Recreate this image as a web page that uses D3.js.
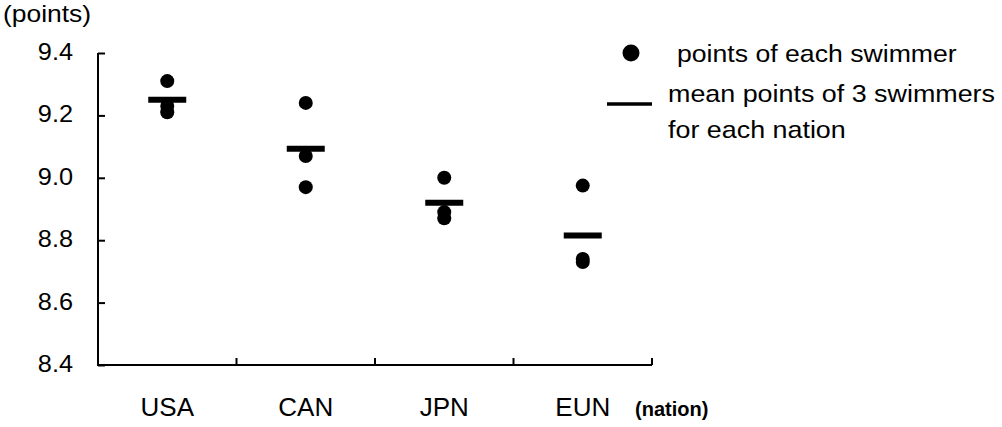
<!DOCTYPE html>
<html lang="en">
<head>
<meta charset="utf-8">
<title>Points of swimmers by nation</title>
<script src="https://cdn.jsdelivr.net/npm/d3@7/dist/d3.min.js"></script>
<style>
  body { margin: 0; background: #fff; }
  text { font-family: "Liberation Sans", Arial, Helvetica, sans-serif; fill: #000; }
</style>
</head>
<body>
<script>
  // data
  var nations = ["USA", "CAN", "JPN", "EUN"];
  var swimmerPoints = [
    [9.31, 9.23, 9.21],
    [9.24, 9.07, 8.97],
    [9.00, 8.89, 8.87],
    [8.975, 8.74, 8.73]
  ];
  var yTicks = [8.4, 8.6, 8.8, 9.0, 9.2, 9.4];

  var w = 1002, h = 427;
  var margin = {top: 53, right: 350, bottom: 62, left: 98};

  var svg = d3.select("body").append("svg").attr("width", w).attr("height", h);

  var x = d3.scaleBand().domain(nations).range([margin.left, w - margin.right]);
  var y = d3.scaleLinear().domain([8.4, 9.4]).range([h - margin.bottom, margin.top]);

  // the scanned type is a bit wider than Arial, so stretch it sideways
  function stretched(sel, px, py, size, sx) {
    return sel.attr("transform", (d, i) => `translate(${typeof px == "function" ? px(d, i) : px},${typeof py == "function" ? py(d, i) : py}) scale(${sx},1)`)
      .style("font-size", size + "px");
  }

  // y axis: ticks point inward, labels sit apart on the left
  var yAxis = svg.append("g")
    .attr("transform", `translate(${margin.left},0)`)
    .call(d3.axisRight(y).tickValues(yTicks).tickSize(7).tickFormat(""));
  yAxis.select(".domain").remove();
  yAxis.selectAll("line").attr("stroke", "#000").attr("stroke-width", 2);

  stretched(svg.selectAll(".ylab")
    .data(yTicks)
    .enter().append("text")
    .attr("class", "ylab")
    .attr("text-anchor", "end")
    .attr("dy", "0.3em")
    .text(d => d.toFixed(1)), 73, d => y(d), 23, 1.1);

  // x axis, ticks at the band edges pointing up
  var bounds = nations.map(d => x(d) + x.bandwidth());
  svg.append("g").selectAll("line")
    .data(bounds)
    .enter().append("line")
    .attr("x1", d => d).attr("x2", d => d)
    .attr("y1", y(8.4)).attr("y2", y(8.4) - 7)
    .attr("stroke", "#000").attr("stroke-width", 2);

  svg.append("path")
    .attr("d", `M${margin.left},${y(9.4)}V${y(8.4)}H${x.range()[1]}`)
    .attr("fill", "none").attr("stroke", "#000").attr("stroke-width", 2);

  stretched(svg.selectAll(".xlab")
    .data(nations)
    .enter().append("text")
    .attr("class", "xlab")
    .attr("text-anchor", "middle")
    .text(d => d), d => x(d) + x.bandwidth() / 2, 416, 25, 1.04);

  svg.append("text").attr("x", 635).attr("y", 416)
    .style("font-size", "20px").style("font-weight", "bold")
    .text("(nation)");

  stretched(svg.append("text").text("(points)"), 3, 22, 23, 1.15);

  // swimmers and the mean of each nation
  var dots = [];
  swimmerPoints.forEach((arr, i) => arr.forEach(v => dots.push({nation: nations[i], v: v})));

  svg.append("g").selectAll("circle")
    .data(dots)
    .enter().append("circle")
    .attr("cx", d => x(d.nation) + x.bandwidth() / 2)
    .attr("cy", d => y(d.v))
    .attr("r", 7)
    .attr("fill", "#000");

  svg.append("g").selectAll("line")
    .data(nations)
    .enter().append("line")
    .attr("x1", d => x(d) + x.bandwidth() / 2 - 19)
    .attr("x2", d => x(d) + x.bandwidth() / 2 + 19)
    .attr("y1", (d, i) => y(d3.mean(swimmerPoints[i])))
    .attr("y2", (d, i) => y(d3.mean(swimmerPoints[i])))
    .attr("stroke", "#000").attr("stroke-width", 6);

  // legend
  var lg = svg.append("g");
  lg.append("circle").attr("cx", 631).attr("cy", 53).attr("r", 8.5).attr("fill", "#000");
  stretched(lg.append("text").text("points of each swimmer"), 677, 62, 24, 1.11);
  lg.append("line").attr("x1", 607).attr("x2", 652).attr("y1", 104).attr("y2", 104)
    .attr("stroke", "#000").attr("stroke-width", 3.5);
  stretched(lg.append("text").text("mean points of 3 swimmers"), 668, 102, 24, 1.12);
  stretched(lg.append("text").text("for each nation"), 668, 138, 24, 1.12);
</script>
</body>
</html>
